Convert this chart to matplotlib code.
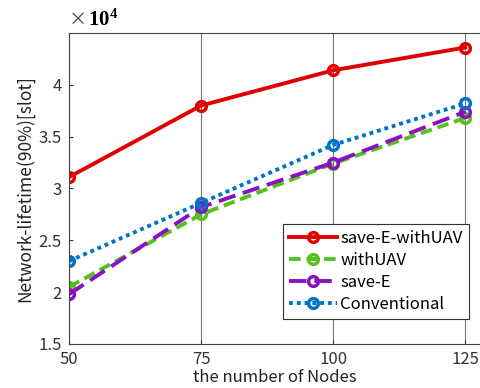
import matplotlib.pyplot as plt

plt.rcParams['font.family'] = ['Noto Sans CJK JP', 'DejaVu Sans']
plt.rcParams['mathtext.fontset'] = 'custom'
plt.rcParams['mathtext.rm'] = 'Liberation Serif'
plt.rcParams['mathtext.bf'] = 'Liberation Serif:bold'

nodes = [50, 75, 100, 125]
save_e_with_uav = [3.11, 3.80, 4.14, 4.36]
with_uav = [2.05, 2.75, 3.24, 3.68]
save_e = [1.98, 2.82, 3.25, 3.74]
conventional = [2.30, 2.86, 3.42, 3.82]

fig = plt.figure(figsize=(4.81, 3.88), dpi=100)
ax = fig.add_axes([69 / 481, 44 / 388, 412 / 481, 311 / 388])

lw = 2.8
ax.plot(nodes, save_e_with_uav, '-o', color='#e00000', lw=lw, ms=7, mew=2.5,
        mfc='none', label='save-E-withUAV')
ax.plot(nodes, with_uav, '--o', color='#55c21c', lw=lw, ms=7, mew=2.5,
        mfc='none', dashes=(3, 1.5), label='withUAV')
ax.plot(nodes, save_e, '--o', color='#8a10c0', lw=lw, ms=7, mew=2.5,
        mfc='none', dashes=(4.5, 2), label='save-E')
ax.plot(nodes, conventional, ':o', color='#0074c4', lw=lw, ms=7, mew=2.5,
        mfc='none', dashes=(1, 1), label='Conventional')

ax.set_xlim(50, 128)
ax.set_ylim(1.5, 4.5)
ax.set_xticks(nodes)
ax.set_yticks([1.5, 2, 2.5, 3, 3.5, 4])
ax.set_yticklabels(['1.5', '2', '2.5', '3', '3.5', '4'])
ax.tick_params(labelsize=12, colors='#333333', direction='in', length=3)
ax.tick_params(axis='x', pad=5)
ax.tick_params(axis='y', pad=5)
ax.xaxis.grid(True, color='#777777', lw=0.8)

ax.spines['right'].set_visible(False)
for s in ['left', 'bottom', 'top']:
    ax.spines[s].set_color('#444444')

ax.set_xlabel('the number of Nodes', fontsize=12, color='#222222', labelpad=1)
ax.set_ylabel('Network-lifetime(90%)[slot]', fontsize=12.5, color='#222222', labelpad=3)

ax.text(0.0, 1.012, '\u00d7', transform=ax.transAxes, fontsize=13, color='#444444',
        ha='left', va='bottom')
ax.text(0.045, 1.008, r'$\mathbf{10^{4}}$', transform=ax.transAxes, fontsize=15,
        ha='left', va='bottom')

leg = ax.legend(loc='lower right', bbox_to_anchor=(0.99, 0.055), fontsize=12,
                handlelength=2.9, handletextpad=0.2, borderpad=0.35,
                labelspacing=0.3, fancybox=False, framealpha=1)
leg.get_frame().set_edgecolor('#333333')
leg.get_frame().set_linewidth(0.8)

fig.savefig('out.png', dpi=100)
